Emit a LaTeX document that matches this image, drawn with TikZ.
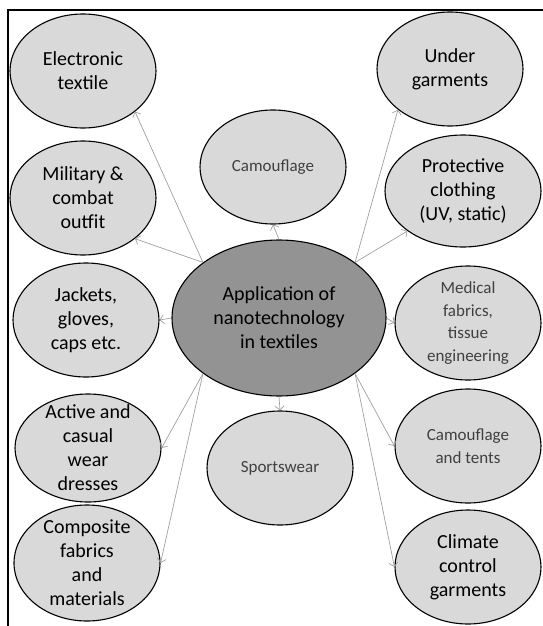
\documentclass[tikz,border=0pt]{standalone}
\usepackage{fontspec}
\setmainfont{Carlito}
\usetikzlibrary{shapes.geometric, arrows.meta}
\definecolor{ovalgray}{HTML}{D9D9D9}
\definecolor{hubgray}{HTML}{939393}
\definecolor{linkgray}{HTML}{A0A0A0}
\definecolor{softtext}{HTML}{404040}

\begin{document}
\begin{tikzpicture}[x=1pt, y=-1pt,
  leaf/.style={draw, ellipse, line width=1.1pt, fill=ovalgray, inner sep=0pt, minimum width=146pt, minimum height=114pt},
  tag/.style={align=center, font=\fontsize{20}{24}\selectfont},
  softtag/.style={align=center, text=softtext, font=\fontsize{17}{22.5}\selectfont},
  link/.style={-{Straight Barb[length=4pt, width=9pt]}, linkgray, line width=0.7pt}]
\useasboundingbox (0,0) rectangle (543,626);
\draw[line width=1.3pt] (8,626) -- (8,10) -- (543,10);

\node [draw, ellipse, line width=1.1pt, fill=hubgray, inner sep=0pt, minimum width=214pt, minimum height=156pt, tag] (app) at (279,318) {Application of \\ nanotechnology \\ in textiles};

\node [leaf, label={[tag]center:{Electronic \\ textile}}] (etex) at (83,71) {};
\node [leaf, label={[tag]center:{Military \& \\ combat \\ outfit}}] (mil) at (83,198) {};
\node [leaf, label={[tag]center:{Jackets, \\ gloves, \\ caps etc.}}] (jack) at (86,320) {};
\node [leaf, minimum height=108pt, label={[tag]center:{Active and \\ casual \\ wear \\ dresses}}] (act) at (88,448) {};
\node [leaf, minimum height=116pt, label={[tag]center:{Composite \\ fabrics \\ and \\ materials}}] (comp) at (87,563) {};

\node [leaf, label={[softtag]center:{Camouflage}}] (camo) at (273,167) {};
\node [leaf, label={[softtag]center:{Sportswear}}] (sport) at (280,468) {};

\node [leaf, label={[tag]center:{Under \\ garments}}] (under) at (450,69) {};
\node [leaf, minimum width=156pt, minimum height=112pt, label={[tag]center:{Protective \\ clothing \\ (UV, static)}}] (prot) at (463,191) {};
\node [leaf, label={[softtag]center:{Medical \\ fabrics, \\ tissue \\ engineering}}] (med) at (468,323) {};
\node [leaf, label={[softtag]center:{Camouflage \\ and tents}}] (tent) at (468,446) {};
\node [leaf, label={[tag]center:{Climate \\ control \\ garments}}] (clim) at (468,567) {};

\path[link]
 (app.north west) edge (etex.south east)
 (app.north west) edge (mil.south east)
 (app.west) edge (jack.east)
 (app.south west) edge (act.east)
 (app.south west) edge (comp.east)
 (app.north) edge (camo.south)
 (app.south) edge (sport.north)
 (app.north east) edge (under.south west)
 (app.north east) edge (prot.south west)
 (app.east) edge (med.west)
 (app.south east) edge (tent.west)
 (app.south east) edge (clim.west);
\end{tikzpicture}
\end{document}
